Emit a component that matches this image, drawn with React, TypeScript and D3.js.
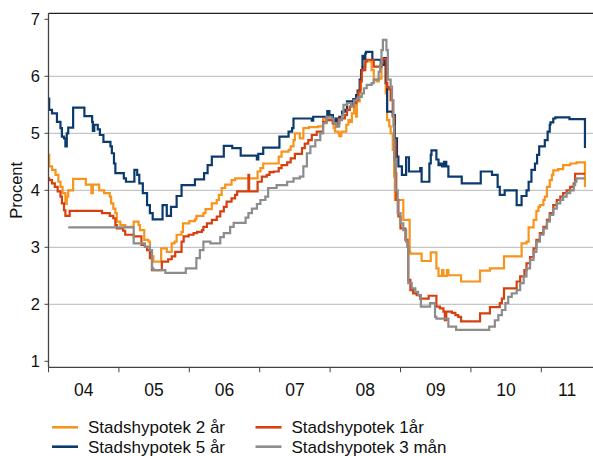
import React, { useEffect, useRef } from 'react';
import * as d3 from 'd3';

// decimal year, percent
const rate2y: [number, number][] = [
  [2004.0, 4.62], [2004.01, 4.42], [2004.05, 4.36], [2004.1, 4.27], [2004.14, 4.15], [2004.17, 4.06],
  [2004.2, 3.95], [2004.24, 3.76], [2004.26, 3.89], [2004.28, 4.0], [2004.35, 4.2], [2004.53, 4.1],
  [2004.61, 3.95], [2004.63, 4.1], [2004.72, 4.0], [2004.79, 3.95], [2004.87, 3.89], [2004.89, 3.77],
  [2004.92, 3.68], [2004.95, 3.6], [2004.97, 3.45], [2005.02, 3.39], [2005.09, 3.36], [2005.21, 3.45],
  [2005.28, 3.39], [2005.3, 3.3], [2005.36, 3.13], [2005.42, 3.1], [2005.44, 2.95], [2005.47, 2.84],
  [2005.49, 2.75], [2005.6, 2.98], [2005.68, 2.92], [2005.75, 3.07], [2005.79, 3.1], [2005.82, 3.22],
  [2005.89, 3.27], [2005.91, 3.42], [2006.0, 3.46], [2006.08, 3.49], [2006.1, 3.55], [2006.2, 3.6],
  [2006.23, 3.67], [2006.32, 3.77], [2006.39, 3.83], [2006.42, 3.92], [2006.46, 4.04], [2006.51, 4.1],
  [2006.6, 4.18], [2006.65, 4.21], [2006.97, 4.33], [2007.01, 4.39], [2007.05, 4.47], [2007.27, 4.59],
  [2007.31, 4.68], [2007.41, 4.71], [2007.44, 4.77], [2007.48, 4.88], [2007.5, 5.0], [2007.57, 4.91],
  [2007.62, 5.09], [2007.7, 5.11], [2007.83, 5.12], [2007.9, 5.26], [2007.99, 5.23], [2008.05, 5.09],
  [2008.07, 5.03], [2008.12, 5.0], [2008.13, 4.95], [2008.16, 5.03], [2008.23, 5.15], [2008.26, 5.23],
  [2008.28, 5.2], [2008.31, 5.35], [2008.34, 5.5], [2008.37, 5.29], [2008.38, 5.56], [2008.42, 5.76],
  [2008.44, 6.1], [2008.46, 6.17], [2008.5, 6.26], [2008.59, 6.11], [2008.62, 5.94], [2008.66, 5.91],
  [2008.69, 5.96], [2008.73, 6.29], [2008.76, 6.32], [2008.79, 5.7], [2008.81, 5.23], [2008.84, 5.12],
  [2008.86, 5.0], [2008.89, 4.71], [2008.91, 4.24], [2008.92, 3.83], [2009.04, 3.48], [2009.13, 2.92],
  [2009.14, 2.89], [2009.3, 2.76], [2009.43, 2.91], [2009.51, 2.63], [2009.54, 2.5], [2009.59, 2.6],
  [2009.61, 2.5], [2009.66, 2.6], [2009.68, 2.51], [2009.86, 2.4], [2010.13, 2.59], [2010.27, 2.63],
  [2010.47, 2.84], [2010.72, 3.07], [2010.79, 3.1], [2010.82, 3.35], [2010.89, 3.48], [2010.93, 3.64],
  [2010.96, 3.71], [2010.98, 3.74], [2011.03, 3.83], [2011.05, 3.89], [2011.08, 4.06], [2011.12, 4.18],
  [2011.15, 4.27], [2011.17, 4.35], [2011.24, 4.37], [2011.31, 4.44], [2011.41, 4.47], [2011.5, 4.49],
  [2011.62, 4.06],
];

const rate5y: [number, number][] = [
  [2004.0, 5.61], [2004.01, 5.41], [2004.05, 5.35], [2004.12, 5.2], [2004.17, 5.09], [2004.19, 4.94],
  [2004.22, 4.91], [2004.24, 4.77], [2004.26, 5.0], [2004.28, 5.1], [2004.35, 5.45], [2004.51, 5.3],
  [2004.62, 5.2], [2004.63, 5.04], [2004.65, 5.15], [2004.7, 5.07], [2004.73, 4.97], [2004.78, 4.85],
  [2004.88, 4.77], [2004.9, 4.65], [2004.93, 4.47], [2004.95, 4.3], [2005.07, 4.21], [2005.1, 4.15],
  [2005.22, 4.36], [2005.26, 4.27], [2005.29, 4.12], [2005.34, 3.95], [2005.4, 3.74], [2005.44, 3.6],
  [2005.48, 3.49], [2005.62, 3.74], [2005.68, 3.55], [2005.74, 3.71], [2005.82, 3.9], [2005.89, 4.09],
  [2006.08, 4.19], [2006.21, 4.3], [2006.26, 4.44], [2006.32, 4.59], [2006.49, 4.78], [2006.61, 4.74],
  [2006.73, 4.61], [2006.96, 4.54], [2006.98, 4.64], [2007.05, 4.75], [2007.28, 4.94], [2007.41, 5.03],
  [2007.46, 5.09], [2007.48, 5.26], [2007.74, 5.22], [2007.76, 5.29], [2007.96, 5.39], [2007.99, 5.32],
  [2008.04, 5.18], [2008.07, 5.26], [2008.1, 5.18], [2008.13, 5.29], [2008.17, 5.38], [2008.21, 5.41],
  [2008.24, 5.56], [2008.3, 5.5], [2008.33, 5.6], [2008.37, 5.67], [2008.39, 5.75], [2008.42, 5.94],
  [2008.44, 6.11], [2008.46, 6.36], [2008.48, 6.3], [2008.5, 6.4], [2008.51, 6.43], [2008.6, 6.29],
  [2008.72, 6.2], [2008.77, 6.32], [2008.79, 5.88], [2008.81, 5.38], [2008.89, 5.32], [2008.92, 4.91],
  [2008.95, 4.59], [2008.97, 4.42], [2009.02, 4.27], [2009.08, 4.58], [2009.12, 4.33], [2009.28, 4.39],
  [2009.3, 4.15], [2009.41, 4.47], [2009.43, 4.62], [2009.44, 4.7], [2009.51, 4.54], [2009.54, 4.44],
  [2009.57, 4.47], [2009.59, 4.42], [2009.62, 4.5], [2009.65, 4.42], [2009.68, 4.24], [2009.87, 4.12],
  [2010.14, 4.33], [2010.3, 4.27], [2010.38, 4.06], [2010.41, 3.92], [2010.48, 4.0], [2010.65, 3.74],
  [2010.72, 3.9], [2010.79, 4.0], [2010.82, 4.15], [2010.86, 4.36], [2010.91, 4.47], [2010.94, 4.62],
  [2010.97, 4.77], [2011.05, 4.88], [2011.09, 5.03], [2011.12, 5.15], [2011.13, 5.19], [2011.17, 5.26],
  [2011.2, 5.28], [2011.4, 5.25], [2011.62, 4.74],
];

const rate1y: [number, number][] = [
  [2004.0, 4.21], [2004.01, 4.18], [2004.05, 4.12], [2004.09, 4.06], [2004.13, 3.98], [2004.17, 3.89],
  [2004.19, 3.77], [2004.22, 3.65], [2004.24, 3.55], [2004.3, 3.64], [2004.76, 3.6], [2004.87, 3.55],
  [2004.92, 3.51], [2004.95, 3.39], [2004.97, 3.33], [2005.06, 3.29], [2005.09, 3.22], [2005.21, 3.19],
  [2005.32, 3.04], [2005.37, 3.01], [2005.4, 2.95], [2005.44, 2.81], [2005.47, 2.6], [2005.61, 2.75],
  [2005.7, 2.79], [2005.75, 2.84], [2005.8, 2.92], [2005.89, 3.1], [2005.92, 3.19], [2005.99, 3.22],
  [2006.06, 3.25], [2006.11, 3.27], [2006.18, 3.3], [2006.2, 3.36], [2006.25, 3.42], [2006.32, 3.48],
  [2006.39, 3.54], [2006.44, 3.63], [2006.49, 3.71], [2006.53, 3.8], [2006.6, 3.86], [2006.65, 3.92],
  [2006.68, 3.98], [2006.84, 4.27], [2006.85, 3.98], [2006.97, 4.15], [2007.03, 4.24], [2007.1, 4.27],
  [2007.14, 4.32], [2007.2, 4.33], [2007.27, 4.39], [2007.31, 4.44], [2007.39, 4.49], [2007.44, 4.56],
  [2007.5, 4.64], [2007.6, 4.74], [2007.64, 4.82], [2007.69, 4.88], [2007.74, 4.97], [2007.81, 5.03],
  [2007.9, 5.2], [2007.95, 5.23], [2008.04, 5.18], [2008.09, 5.12], [2008.12, 5.26], [2008.21, 5.32],
  [2008.24, 5.41], [2008.28, 5.47], [2008.33, 5.53], [2008.37, 5.58], [2008.4, 5.73], [2008.43, 5.91],
  [2008.45, 6.11], [2008.5, 6.26], [2008.52, 6.29], [2008.62, 6.17], [2008.73, 6.29], [2008.75, 6.3],
  [2008.8, 5.88], [2008.81, 5.81], [2008.84, 5.77], [2008.86, 5.58], [2008.89, 5.29], [2008.91, 4.88],
  [2008.93, 4.3], [2008.94, 3.83], [2008.97, 3.54], [2009.0, 3.33], [2009.07, 3.13], [2009.1, 3.01],
  [2009.11, 2.43], [2009.14, 2.25], [2009.18, 2.19], [2009.23, 2.16], [2009.28, 2.1], [2009.4, 2.15],
  [2009.51, 1.96], [2009.56, 1.93], [2009.61, 1.87], [2009.63, 1.72], [2009.65, 1.87], [2009.73, 1.85],
  [2009.78, 1.81], [2009.82, 1.78], [2009.86, 1.7], [2010.13, 1.84], [2010.27, 1.95], [2010.41, 2.02],
  [2010.44, 2.1], [2010.47, 2.28], [2010.65, 2.4], [2010.7, 2.49], [2010.76, 2.6], [2010.79, 2.72],
  [2010.84, 2.83], [2010.89, 2.98], [2010.93, 3.13], [2010.98, 3.25], [2011.03, 3.36], [2011.08, 3.48],
  [2011.12, 3.6], [2011.17, 3.74], [2011.22, 3.83], [2011.27, 3.89], [2011.31, 3.95], [2011.36, 4.0],
  [2011.41, 4.06], [2011.46, 4.12], [2011.48, 4.29], [2011.62, 4.29],
];

const rate3m: [number, number][] = [
  [2004.28, 3.35], [2005.21, 3.07], [2005.37, 3.01], [2005.44, 2.95], [2005.47, 2.63], [2005.49, 2.6],
  [2005.66, 2.55], [2005.95, 2.63], [2006.1, 2.81], [2006.15, 2.95], [2006.2, 3.1], [2006.3, 3.07],
  [2006.44, 3.18], [2006.49, 3.25], [2006.58, 3.36], [2006.63, 3.43], [2006.8, 3.52], [2006.84, 3.6],
  [2006.89, 3.68], [2006.96, 3.76], [2007.01, 3.83], [2007.08, 3.89], [2007.12, 4.04], [2007.24, 4.09],
  [2007.39, 4.15], [2007.48, 4.21], [2007.57, 4.24], [2007.62, 4.42], [2007.67, 4.65], [2007.72, 4.77],
  [2007.79, 4.88], [2007.86, 5.0], [2007.9, 5.18], [2007.95, 5.29], [2008.02, 5.26], [2008.05, 5.18],
  [2008.09, 5.12], [2008.13, 5.23], [2008.17, 5.32], [2008.19, 5.5], [2008.24, 5.53], [2008.3, 5.47],
  [2008.34, 5.58], [2008.38, 5.61], [2008.41, 5.64], [2008.45, 5.7], [2008.48, 5.79], [2008.52, 5.85],
  [2008.59, 5.88], [2008.62, 5.94], [2008.69, 6.08], [2008.71, 6.2], [2008.73, 6.46], [2008.75, 6.64],
  [2008.8, 6.46], [2008.82, 5.94], [2008.86, 5.82], [2008.88, 5.58], [2008.9, 5.12], [2008.91, 4.53],
  [2008.93, 4.0], [2008.96, 3.6], [2009.0, 3.42], [2009.04, 3.3], [2009.08, 3.1], [2009.1, 3.01],
  [2009.11, 2.37], [2009.16, 2.28], [2009.21, 2.22], [2009.25, 2.16], [2009.29, 1.96], [2009.42, 2.02],
  [2009.49, 1.78], [2009.51, 1.75], [2009.68, 1.61], [2009.79, 1.55], [2010.26, 1.61], [2010.34, 1.72],
  [2010.39, 1.81], [2010.44, 1.9], [2010.49, 2.02], [2010.53, 2.13], [2010.58, 2.19], [2010.65, 2.25],
  [2010.7, 2.37], [2010.75, 2.49], [2010.79, 2.63], [2010.84, 2.78], [2010.89, 2.92], [2010.93, 3.1],
  [2010.98, 3.22], [2011.03, 3.33], [2011.08, 3.45], [2011.12, 3.57], [2011.17, 3.68], [2011.22, 3.77],
  [2011.27, 3.83], [2011.31, 3.89], [2011.36, 3.95], [2011.41, 4.0], [2011.46, 4.09], [2011.48, 4.15],
  [2011.5, 4.21], [2011.62, 4.21],
];

const years = [2004, 2005, 2006, 2007, 2008, 2009, 2010, 2011];
const yearLabels = ['04', '05', '06', '07', '08', '09', '10', '11'];
const yTicks = [1, 2, 3, 4, 5, 6, 7];
const gridLines = [2, 3, 4, 5, 6];

const seriesNames = ['Stadshypotek 2 år', 'Stadshypotek 5 år', 'Stadshypotek 1år', 'Stadshypotek 3 mån'];
const seriesColors = ['#F7941D', '#0B3A6E', '#D5400E', '#8C8C8C'];
const seriesData = [rate2y, rate5y, rate1y, rate3m];

const App = () => {
  const ref = useRef<SVGSVGElement>(null);

  const width = 593;
  const height = 456;
  const plot = { left: 48.5, top: 13.3, bottom: 367.3, right: 593 };
  const font = '"Liberation Sans", Arial, sans-serif';

  useEffect(() => {
    drawChart();
  }, []);

  function drawChart() {
    const svg = d3.select(ref.current);
    svg.selectAll('*').remove();

    const x = d3.scaleLinear().domain([2004, 2011]).range([plot.left, 541.3]);
    const xEnd = x.invert(plot.right);
    const y = d3.scaleLinear().domain([1, 7]).range([361.3, 19.3]);

    // gridlines
    svg.selectAll('.grid')
      .data(gridLines)
      .enter()
      .append('line')
      .attr('x1', plot.left)
      .attr('x2', plot.right)
      .attr('y1', (d) => y(d))
      .attr('y2', (d) => y(d))
      .style('stroke', '#c6c6c6')
      .style('stroke-width', 1.2);

    // top border
    svg.append('line')
      .attr('x1', plot.left).attr('x2', plot.right)
      .attr('y1', plot.top).attr('y2', plot.top)
      .style('stroke', '#222').style('stroke-width', 1.3);

    // lines
    const line = d3.line<[number, number]>()
      .x((d) => x(d[0]))
      .y((d) => y(d[1]))
      .curve(d3.curveStepAfter);

    const drawOrder = [0, 1, 2, 3];
    drawOrder.forEach((i) => {
      svg.append('path')
        .datum(seriesData[i])
        .attr('d', line)
        .style('fill', 'none')
        .style('stroke', seriesColors[i])
        .style('stroke-width', 2.2)
        .style('stroke-linejoin', 'miter');
    });

    // y axis
    svg.append('line')
      .attr('x1', plot.left).attr('x2', plot.left)
      .attr('y1', plot.top).attr('y2', plot.bottom)
      .style('stroke', '#444').style('stroke-width', 1.3);

    svg.selectAll('.ytick')
      .data(yTicks)
      .enter()
      .append('line')
      .attr('x1', plot.left - 4)
      .attr('x2', plot.left)
      .attr('y1', (d) => y(d))
      .attr('y2', (d) => y(d))
      .style('stroke', '#444');

    svg.selectAll('.ylabel')
      .data(yTicks)
      .enter()
      .append('text')
      .attr('x', 40)
      .attr('y', (d) => y(d))
      .attr('dy', '0.36em')
      .attr('text-anchor', 'end')
      .style('font-family', font)
      .style('font-size', '16.5px')
      .style('fill', '#111')
      .text((d) => d);

    svg.append('text')
      .attr('transform', `translate(21.5, ${(plot.top + plot.bottom) / 2}) rotate(-90)`)
      .attr('text-anchor', 'middle')
      .style('font-family', font)
      .style('font-size', '16.5px')
      .style('fill', '#111')
      .text('Procent');

    // x axis
    svg.append('line')
      .attr('x1', plot.left).attr('x2', plot.right)
      .attr('y1', plot.bottom).attr('y2', plot.bottom)
      .style('stroke', '#444').style('stroke-width', 1.3);

    svg.selectAll('.xtick')
      .data(years)
      .enter()
      .append('line')
      .attr('x1', (d) => x(d))
      .attr('x2', (d) => x(d))
      .attr('y1', plot.bottom)
      .attr('y2', plot.bottom + 5)
      .style('stroke', '#444');

    svg.selectAll('.xlabel')
      .data(years)
      .enter()
      .append('text')
      .attr('x', (d) => (x(d) + x(Math.min(d + 1, xEnd))) / 2)
      .attr('y', 396)
      .attr('text-anchor', 'middle')
      .style('font-family', font)
      .style('font-size', '17.5px')
      .style('fill', '#111')
      .text((_, i) => yearLabels[i]);

    // legend
    const legendPos = [
      { x: 52, y: 427.3 },
      { x: 52, y: 446.7 },
      { x: 255.5, y: 427.3 },
      { x: 255.5, y: 446.7 },
    ];
    const legend = svg.selectAll('.legend')
      .data(seriesNames)
      .enter()
      .append('g')
      .attr('transform', (_, i) => `translate(${legendPos[i].x}, ${legendPos[i].y})`);

    legend.append('line')
      .attr('x1', 0).attr('x2', 26)
      .attr('y1', 0).attr('y2', 0)
      .style('stroke', (_, i) => seriesColors[i])
      .style('stroke-width', 2.6);

    legend.append('text')
      .attr('x', 36)
      .attr('y', 6)
      .style('font-family', font)
      .style('font-size', '17px')
      .style('fill', '#111')
      .text((d) => d);
  }

  return (
    <svg
      ref={ref}
      width={width}
      height={height}
      style={{ position: 'absolute', left: 0, top: 0, background: '#fff' }}
    />
  );
};

export default App;
